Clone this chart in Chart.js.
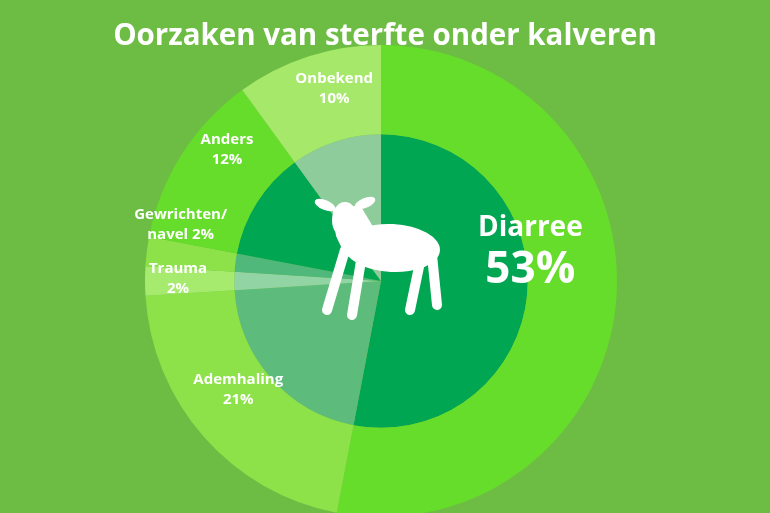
<!DOCTYPE html>
<html>
<head>
<meta charset="utf-8">
<script src="https://cdn.jsdelivr.net/npm/chart.js@4"></script>
<style>
  html, body { margin: 0; padding: 0; background: #6dbd45; overflow: hidden; }
  #wrap { position: relative; width: 770px; height: 540px; }
  #title { position: absolute; top: 13px; left: 0; width: 770px; text-align: center;
    font: bold 29.5px "Open Sans", sans-serif; color: #fff; z-index: 2; }
</style>
</head>
<body>
<div id="wrap">
  <div id="title">Oorzaken van sterfte onder kalveren</div>
  <canvas id="pieChart" width="770" height="540"></canvas>
</div>
<script>
// Data
const categories = ['Diarree', 'Ademhaling', 'Trauma', 'Gewrichten/ navel', 'Anders', 'Onbekend'];
const percentages = [53, 21, 2, 2, 12, 10];
const labelLines = [['Diarree', '53%'], ['Ademhaling', '21%'], ['Trauma', '2%'], ['Gewrichten/', 'navel 2%'], ['Anders', '12%'], ['Onbekend', '10%']];

const outerColors = ['#66dd2a', '#8de24a', '#a6ea6e', '#8de24a', '#66dd2a', '#a5e86a'];
const innerColors = ['#00a651', '#5dbb7c', '#93d4a4', '#4fb87a', '#00a651', '#8fcc9c'];

// label placement: radius from centre and small nudges per slice label
const labelRadius = [150, 185, 205, 212, 212, 200];
const labelNudge = [[0, -5], [-4, -14], [2, -2], [10, -30], [25, -18], [15, -2]];

// draws the text labels at the slice angles
const labelPlugin = {
    id: 'labels',
    afterDatasetsDraw(chart) {
        const ctx = chart.ctx;
        const meta = chart.getDatasetMeta(0);
        ctx.save();
        ctx.fillStyle = '#fff';
        ctx.textAlign = 'center';
        ctx.textBaseline = 'middle';
        meta.data.forEach((arc, i) => {
            const mid = (arc.startAngle + arc.endAngle) / 2;
            const x = arc.x + Math.cos(mid) * labelRadius[i] + labelNudge[i][0];
            const y = arc.y + Math.sin(mid) * labelRadius[i] + labelNudge[i][1];
            if (i === 0) {
                ctx.font = 'bold 28px "Open Sans", sans-serif';
                ctx.fillText(labelLines[i][0], x, y - 62);
                ctx.font = 'bold 44px "Open Sans", sans-serif';
                ctx.fillText(labelLines[i][1], x, y - 20);
            } else {
                ctx.font = 'bold 15px "Open Sans", sans-serif';
                ctx.fillText(labelLines[i][0], x, y - 10);
                ctx.fillText(labelLines[i][1], x, y + 10);
            }
        });
        ctx.restore();
    }
};

// rough calf silhouette in the middle
const calfPlugin = {
    id: 'calf',
    afterDraw(chart) {
        const ctx = chart.ctx;
        ctx.save();
        ctx.fillStyle = '#fff';
        // body
        ctx.beginPath();
        ctx.ellipse(392, 248, 48, 24, 0.05, 0, Math.PI * 2);
        ctx.fill();
        // neck + head
        ctx.beginPath();
        ctx.moveTo(333, 210);
        ctx.lineTo(360, 205);
        ctx.lineTo(375, 230);
        ctx.lineTo(360, 262);
        ctx.lineTo(345, 255);
        ctx.lineTo(336, 236);
        ctx.closePath();
        ctx.fill();
        ctx.beginPath();
        ctx.ellipse(345, 220, 13, 18, 0, 0, Math.PI * 2);
        ctx.fill();
        // ears
        ctx.beginPath();
        ctx.ellipse(325, 205, 11, 5, 0.4, 0, Math.PI * 2);
        ctx.fill();
        ctx.beginPath();
        ctx.ellipse(365, 203, 11, 5, -0.4, 0, Math.PI * 2);
        ctx.fill();
        // legs
        ctx.lineWidth = 10;
        ctx.lineCap = 'round';
        ctx.strokeStyle = '#fff';
        [[345, 250, 327, 310], [362, 255, 352, 315], [420, 262, 410, 310], [432, 255, 437, 305]].forEach(l => {
            ctx.beginPath();
            ctx.moveTo(l[0], l[1]);
            ctx.lineTo(l[2], l[3]);
            ctx.stroke();
        });
        ctx.restore();
    }
};

function initChart() {
    const ctx = document.getElementById('pieChart').getContext('2d');
    new Chart(ctx, {
        type: 'pie',
        data: {
            labels: categories,
            datasets: [{
                data: percentages,
                backgroundColor: outerColors,
                borderWidth: 0,
                weight: 90
            }, {
                data: percentages,
                backgroundColor: innerColors,
                borderWidth: 0,
                weight: 148
            }]
        },
        options: {
            responsive: false,
            animation: false,
            layout: { padding: { top: 44, bottom: 22, left: 145, right: 153 } },
            plugins: {
                legend: { display: false },
                tooltip: { enabled: false }
            }
        },
        plugins: [labelPlugin, calfPlugin]
    });
}

document.addEventListener('DOMContentLoaded', initChart);
</script>
</body>
</html>
